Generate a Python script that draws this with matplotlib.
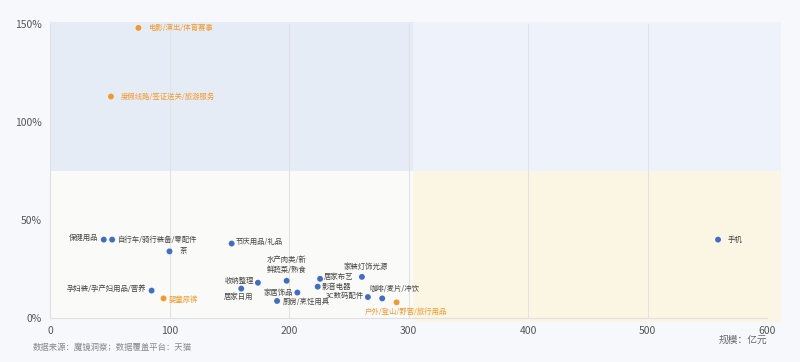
import matplotlib.pyplot as plt
from matplotlib.patches import Rectangle

plt.rcParams['font.family'] = ['Noto Sans CJK SC', 'DejaVu Sans']

# Category data: scale (亿元) vs growth (%)
names = ['电影/演出/体育赛事', '度假线路/签证送关/旅游服务', '保健用品', '自行车/骑行装备/零配件',
         '茶', '节庆用品/礼品', '孕妇装/孕产妇用品/营养', '婴童尿裤', '收纳整理', '居家日用',
         '水产肉类/新\n鲜蔬菜/熟食', '家居饰品', '厨房/烹饪用具', '居家布艺', '影音电器',
         '家装灯饰光源', '3C数码配件', '咖啡/麦片/冲饮', '户外/登山/野营/旅行用品', '手机']
scale = [74, 51, 45, 52, 100, 152, 85, 95, 174, 160,
         198, 207, 190, 226, 224, 261, 266, 278, 290, 559]
growth = [148, 113, 40, 40, 34, 38, 14, 10, 18, 15,
          19, 13, 8.7, 20, 16, 21, 10.7, 10, 8, 40]
highlight = [True, True, False, False, False, False, False, True, False, False,
             False, False, False, False, False, False, False, False, True, False]
# label placement: (dx, dy, ha, va) in points
label_pos = [(7, 0, 'left', 'center'), (7, 0, 'left', 'center'), (-4, 1, 'right', 'center'),
             (4, 0, 'left', 'center'), (7, 0, 'left', 'center'), (3, 1, 'left', 'center'),
             (-4, 1, 'right', 'center'), (4, -1, 'left', 'center'), (-3, 1, 'right', 'center'),
             (-2, -3, 'center', 'top'), (0, 5, 'center', 'bottom'), (-3, 0, 'right', 'center'),
             (4, -1, 'left', 'center'), (3, 1, 'left', 'center'), (3, 0, 'left', 'center'),
             (3, 4, 'center', 'bottom'), (-3, 1, 'right', 'center'), (-9, 4, 'left', 'bottom'),
             (7, -4, 'center', 'top'), (7, 0, 'left', 'center')]

x_ticks = [0, 100, 200, 300, 400, 500, 600]
y_ticks = [0, 50, 100, 150]
y_labels = ['0%', '50%', '100%', '150%']

blue = '#3d6fc8'
orange = '#f39a2b'

fig = plt.figure(figsize=(8, 3.62), dpi=100)
fig.patch.set_facecolor('#f6f8fc')
ax = fig.add_axes([0.0625, 0.1215, 0.8963, 0.8122])
ax.set_facecolor('none')
ax.set_xlim(0, 600)
ax.set_ylim(0, 150)

# quadrant backgrounds
qx, qy = 304, 75
ax.add_patch(Rectangle((0, qy), qx, 151 - qy, color='#e6ecf6', zorder=0, clip_on=False, lw=0))
ax.add_patch(Rectangle((qx, qy), 612 - qx, 151 - qy, color='#eef2fa', zorder=0, clip_on=False, lw=0))
ax.add_patch(Rectangle((qx, -2), 612 - qx, qy + 2, color='#fbf5e3', zorder=0, clip_on=False, lw=0))
ax.add_patch(Rectangle((0, 0), qx, qy, color='#fafaf8', zorder=0, clip_on=False, lw=0))

for xt in x_ticks[1:]:
    ax.axvline(xt, color='#e3e3e3', lw=0.8, zorder=1)

for s in ['top', 'right']:
    ax.spines[s].set_visible(False)
for s in ['left', 'bottom']:
    ax.spines[s].set_color('#e0e0e0')
    ax.spines[s].set_zorder(1)

ax.set_xticks(x_ticks)
ax.set_yticks(y_ticks)
ax.set_yticklabels(y_labels)
ax.tick_params(length=0, labelsize=7.5, colors='#555555', pad=6)

for n, xv, yv, hl, (dx, dy, ha, va) in zip(names, scale, growth, highlight, label_pos):
    c = orange if hl else blue
    ax.scatter(xv, yv, s=18, color=c, zorder=3, edgecolors='none')
    ax.annotate(n, (xv, yv), xytext=(dx, dy), textcoords='offset points',
                ha=ha, va=va, fontsize=5.3, color=orange if hl else '#444444',
                zorder=4, linespacing=1.3)

fig.text(0.041, 0.035, '数据来源：魔镜洞察；数据覆盖平台：天猫', fontsize=6, color='#888888')
fig.text(0.959, 0.062, '规模：亿元', fontsize=7, color='#666666', ha='right', va='center')

fig.savefig('out.png', dpi=100, facecolor=fig.get_facecolor())
